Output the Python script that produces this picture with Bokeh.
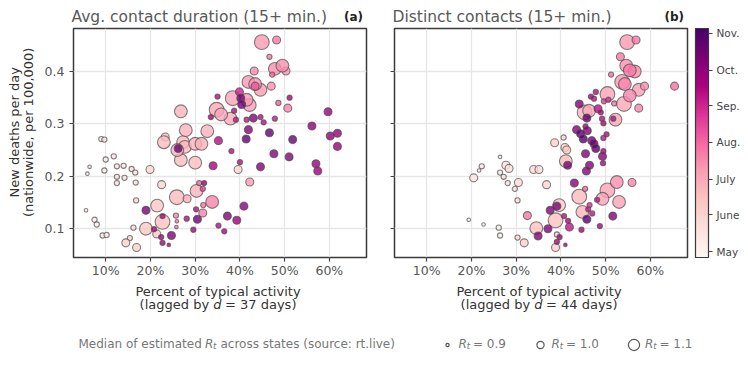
import numpy as np
from bokeh.plotting import figure
from bokeh.layouts import row, column
from bokeh.models import (ColumnDataSource, Range1d, FixedTicker, Label, ColorBar,
                          LinearColorMapper, PrintfTickFormatter, CustomJSTickFormatter)
from bokeh.embed import file_html
from bokeh.resources import INLINE

# ---------------- data: panel (a) avg. contact duration, lag 37 days ----------------
x_a = [44.9, 48.2, 46.6, 47.8, 49.5, 50.3, 43.2, 47.2, 41.9, 43.4,
       43.4, 44.6, 47.0, 51.1, 48.6, 50.7, 35.0, 38.4, 39.9, 40.2,
       41.5, 42.2, 40.4, 38.7, 34.8, 35.8, 33.5, 37.9, 39.1, 26.8,
       43.0, 41.5, 44.6, 45.3, 47.8, 59.7, 56.1, 41.9, 46.6, 41.4,
       27.9, 32.7, 23.3, 23.0, 27.3, 30.0, 31.4, 35.2, 51.8, 60.2,
       61.8, 61.8, 9.0, 9.7, 26.2, 26.0, 27.7, 38.1, 26.8, 30.0,
       34.0, 40.0, 39.6, 44.6, 47.6, 51.0, 57.0, 57.4, 11.8, 10.0,
       6.4, 5.9, 9.7, 12.5, 14.0, 15.8, 16.6, 12.5, 14.2, 12.5,
       16.7, 19.9, 22.5, 16.8, 5.6, 7.5, 8.0, 9.3, 10.2, 16.2,
       15.4, 14.5, 16.9, 19.0, 21.4, 21.5, 22.7, 19.0, 20.8, 22.7,
       22.4, 22.7, 24.1, 24.7, 25.7, 25.9, 25.8, 25.9, 28.2, 28.1,
       29.6, 30.5, 30.2, 30.3, 31.7, 31.8, 33.8, 30.9, 32.0, 31.7,
       35.2, 36.5, 37.2, 39.3, 40.9, 42.2]
y_a = [0.456, 0.460, 0.428, 0.405, 0.411, 0.401, 0.401, 0.394, 0.380, 0.376,
       0.372, 0.365, 0.372, 0.350, 0.340, 0.330, 0.352, 0.349, 0.361, 0.349,
       0.346, 0.336, 0.337, 0.325, 0.327, 0.318, 0.313, 0.310, 0.308, 0.324,
       0.311, 0.308, 0.313, 0.303, 0.310, 0.323, 0.296, 0.289, 0.283, 0.271,
       0.288, 0.286, 0.275, 0.265, 0.265, 0.262, 0.262, 0.268, 0.270, 0.277,
       0.282, 0.257, 0.271, 0.270, 0.253, 0.250, 0.256, 0.248, 0.231, 0.226,
       0.220, 0.227, 0.213, 0.218, 0.243, 0.237, 0.224, 0.210, 0.238, 0.232,
       0.218, 0.205, 0.211, 0.219, 0.220, 0.214, 0.207, 0.199, 0.197, 0.187,
       0.188, 0.213, 0.184, 0.154, 0.135, 0.117, 0.108, 0.087, 0.088, 0.102,
       0.082, 0.073, 0.064, 0.100, 0.090, 0.144, 0.113, 0.135, 0.099, 0.124,
       0.084, 0.073, 0.069, 0.087, 0.125, 0.114, 0.103, 0.160, 0.157, 0.119,
       0.098, 0.118, 0.137, 0.172, 0.130, 0.145, 0.151, 0.187, 0.187, 0.176,
       0.106, 0.095, 0.124, 0.116, 0.143, 0.189]
rt_a = [1.19, 1.02, 0.95, 1.14, 1.14, 1.02, 1.02, 0.95, 1.14, 1.14,
        1.02, 1.14, 1.02, 0.95, 0.95, 1.02, 0.95, 1.19, 1.02, 1.02,
        1.14, 1.14, 1.02, 0.95, 1.19, 1.14, 0.95, 1.14, 0.95, 1.14,
        1.02, 0.95, 0.95, 0.95, 0.95, 1.02, 1.02, 1.02, 1.02, 1.02,
        1.14, 1.14, 1.02, 1.14, 1.14, 1.14, 1.14, 1.02, 1.02, 1.02,
        1.02, 1.02, 0.95, 0.95, 1.02, 1.14, 1.14, 0.95, 1.14, 1.14,
        1.02, 0.95, 1.02, 1.02, 1.02, 1.02, 1.02, 1.02, 0.95, 0.95,
        0.91, 0.91, 0.95, 0.95, 0.95, 0.95, 0.95, 0.95, 0.95, 0.95,
        0.95, 1.02, 1.02, 0.95, 0.91, 0.95, 0.95, 0.95, 0.95, 0.95,
        0.95, 1.02, 1.02, 1.14, 1.02, 1.14, 1.19, 1.02, 0.95, 0.95,
        0.95, 0.95, 0.91, 1.02, 0.95, 0.91, 0.91, 1.19, 1.02, 0.95,
        0.95, 1.02, 0.95, 1.14, 1.02, 0.95, 1.14, 0.95, 0.95, 0.95,
        0.95, 0.95, 1.02, 1.02, 1.02, 1.02]
day_a = [70, 85, 85, 75, 75, 72, 78, 90, 70, 72,
         100, 70, 75, 140, 95, 80, 135, 65, 125, 165,
         70, 68, 170, 135, 62, 62, 140, 60, 130, 55,
         160, 130, 135, 135, 130, 150, 155, 160, 175, 175,
         55, 55, 50, 50, 52, 55, 58, 135, 170, 155,
         152, 150, 8, 8, 170, 55, 52, 135, 50, 48,
         140, 135, 30, 160, 160, 160, 150, 150, 15, 12,
         10, 10, 12, 15, 15, 18, 18, 20, 20, 20,
         22, 28, 30, 25, 5, 5, 5, 5, 5, 28,
         30, 35, 35, 40, 40, 42, 45, 165, 140, 140,
         145, 145, 140, 160, 80, 85, 85, 50, 60, 135,
         140, 168, 135, 55, 80, 85, 80, 95, 150, 110,
         135, 140, 160, 150, 155, 70]

# ---------------- data: panel (b) distinct contacts, lag 44 days ----------------
x_b = [54.8, 56.8, 53.3, 54.6, 55.4, 56.5, 51.2, 53.7, 54.3, 58.7,
       57.4, 65.4, 50.4, 55.4, 54.1, 57.4, 47.8, 46.7, 47.4, 49.6,
       50.6, 51.9, 44.1, 45.3, 46.3, 48.3, 48.9, 45.8, 49.2, 49.5,
       52.2, 51.7, 45.5, 43.5, 44.4, 45.9, 45.0, 46.9, 47.4, 49.5,
       50.2, 40.6, 38.6, 40.9, 41.3, 45.5, 47.8, 49.3, 49.5, 41.1,
       41.5, 46.4, 45.7, 49.4, 26.4, 22.3, 21.7, 20.5, 27.7, 28.4,
       26.4, 27.2, 28.1, 30.5, 29.7, 30.3, 33.9, 35.1, 36.8, 43.0,
       45.4, 44.1, 48.1, 50.4, 52.5, 55.9, 49.3, 53.0, 46.4, 46.1,
       44.8, 47.0, 45.8, 51.6, 48.7, 44.6, 39.6, 39.1, 37.6, 40.7,
       41.6, 41.9, 38.8, 32.5, 34.5, 37.1, 34.9, 39.1, 39.7, 39.1,
       38.8, 41.0, 19.4, 22.7, 26.1, 26.4, 30.3, 31.8]
y_b = [0.456, 0.460, 0.428, 0.411, 0.402, 0.400, 0.394, 0.380, 0.376, 0.372,
       0.365, 0.372, 0.357, 0.354, 0.338, 0.330, 0.361, 0.352, 0.348, 0.343,
       0.346, 0.339, 0.338, 0.322, 0.325, 0.329, 0.322, 0.311, 0.310, 0.301,
       0.308, 0.310, 0.295, 0.289, 0.281, 0.287, 0.271, 0.268, 0.262, 0.273,
       0.280, 0.274, 0.264, 0.255, 0.250, 0.243, 0.253, 0.238, 0.248, 0.229,
       0.221, 0.221, 0.210, 0.225, 0.237, 0.219, 0.211, 0.197, 0.221, 0.215,
       0.207, 0.199, 0.187, 0.188, 0.176, 0.154, 0.213, 0.213, 0.184, 0.187,
       0.176, 0.161, 0.155, 0.173, 0.189, 0.188, 0.157, 0.151, 0.145, 0.137,
       0.132, 0.129, 0.118, 0.124, 0.105, 0.098, 0.145, 0.143, 0.135, 0.124,
       0.115, 0.103, 0.116, 0.125, 0.101, 0.100, 0.086, 0.089, 0.084, 0.075,
       0.064, 0.069, 0.117, 0.108, 0.102, 0.087, 0.083, 0.073]
rt_b = [1.19, 1.02, 1.02, 1.14, 1.14, 1.14, 0.95, 1.19, 1.14, 1.02,
        1.14, 1.02, 1.19, 1.14, 1.19, 1.02, 0.95, 0.95, 0.95, 0.95,
        0.95, 0.95, 1.02, 1.19, 1.14, 1.02, 0.95, 1.02, 0.95, 0.95,
        1.14, 0.95, 0.95, 1.02, 1.02, 1.02, 1.02, 1.02, 1.02, 0.95,
        0.95, 0.95, 1.02, 1.02, 1.02, 1.02, 1.02, 1.02, 0.95, 1.14,
        1.02, 1.02, 1.02, 0.95, 0.91, 0.95, 0.91, 1.02, 1.02, 1.02,
        0.95, 0.95, 0.95, 1.02, 0.95, 0.95, 1.02, 1.02, 1.02, 1.02,
        0.95, 1.19, 0.95, 1.19, 1.14, 1.02, 1.14, 1.14, 0.95, 0.95,
        1.14, 0.95, 1.02, 1.02, 0.95, 0.95, 1.14, 1.02, 1.02, 0.95,
        0.95, 1.02, 1.19, 1.02, 1.14, 1.02, 1.02, 0.95, 0.95, 0.95,
        1.02, 0.91, 0.91, 0.91, 0.95, 0.95, 0.95, 1.02]
day_b = [70, 85, 85, 75, 85, 75, 90, 70, 78, 75,
         68, 90, 65, 80, 62, 80, 135, 140, 130, 110,
         120, 90, 160, 55, 60, 135, 140, 175, 135, 140,
         62, 135, 145, 160, 178, 160, 180, 165, 170, 130,
         135, 30, 35, 35, 40, 160, 178, 155, 140, 50,
         165, 160, 160, 140, 10, 12, 12, 15, 18, 18,
         15, 18, 18, 22, 22, 25, 25, 25, 30, 155,
         95, 50, 130, 65, 75, 80, 65, 65, 120, 130,
         55, 130, 180, 160, 140, 140, 40, 165, 160, 135,
         140, 130, 45, 85, 45, 160, 160, 40, 140, 140,
         35, 140, 5, 5, 5, 5, 28, 35]

# ---------------- labels / ticks ----------------
month_days = [0, 31, 61, 92, 123, 153, 184]       # days since May 1
month_labels = ["May", "June", "July", "Aug.", "Sep.", "Oct.", "Nov."]
x_ticks = [10, 20, 30, 40, 50, 60]
y_ticks = [0.1, 0.2, 0.3, 0.4]
rt_legend = [0.9, 1.0, 1.1]
rt_legend_text = ["0.9", "1.0", "1.1"]
panel_titles = ["Avg. contact duration (15+ min.)", "Distinct contacts (15+ min.)"]
panel_tags = ["(a)", "(b)"]
lags = [37, 44]
ylabel_lines = ["New deaths per day", "(nationwide, per 100,000)"]

FONT = "DejaVu Sans"
FW, FH = 293, 229
W, H = 748, 367
TOP_H = 26          # title strip
LEFT_W = 41         # y-label strip
PA_L, PA_R = 30, 14
PB_L = 14
ROW_B = 26
ROW_H = 2 + FH + ROW_B
BOT_H = H - TOP_H - ROW_H
FRAME_A_X = LEFT_W + PA_L
FRAME_B_X = FRAME_A_X + FW + PA_R + PB_L
DY = 4.5            # baseline correction for labels

RDPU9 = ["#fff7f3", "#fde0dd", "#fcc5c0", "#fa9fb5", "#f768a1",
         "#dd3497", "#ae017e", "#7a0177", "#49006a"]


def interp_palette(cols, n=256):
    rgb = np.array([[int(c[i:i + 2], 16) for i in (1, 3, 5)] for c in cols], float)
    pos = np.linspace(0, 1, len(cols))
    out = []
    for t in np.linspace(0, 1, n):
        r, g, b = (np.interp(t, pos, rgb[:, k]) for k in range(3))
        out.append("#%02x%02x%02x" % (int(round(r)), int(round(g)), int(round(b))))
    return out


mapper = LinearColorMapper(palette=interp_palette(RDPU9), low=-5, high=188)


def rt_size(rt):
    return np.clip(7.2 + (np.asarray(rt, float) - 1.0) * 40.0, 3.0, None)


def add_label(p, x, y, text, size, color, align="left", baseline="alphabetic",
              style="normal", angle=0.0):
    p.add_layout(Label(x=x, y=y, text=text,
                       text_font=FONT, text_font_size=size, text_color=color,
                       text_align=align, text_baseline=baseline,
                       text_font_style=style, angle=angle))


def strip(w, h):
    s = figure(width=w, height=h, x_range=Range1d(0, w), y_range=Range1d(0, h),
               output_backend="svg", toolbar_location=None, min_border=0, title=None,
               x_axis_location=None, y_axis_location=None)
    s.outline_line_color = None
    s.grid.visible = False
    s.border_fill_color = "white"
    s.background_fill_color = "white"
    return s


def make_panel(xs, ys, rts, days, left, right, show_ylab):
    p = figure(frame_width=FW, frame_height=FH, title=None,
               x_range=Range1d(2.8, 68.3), y_range=Range1d(0.045, 0.482),
               output_backend="svg", toolbar_location=None,
               min_border_left=left, min_border_right=right,
               min_border_top=2, min_border_bottom=ROW_B)
    p.background_fill_color = "white"
    p.border_fill_color = "white"
    p.outline_line_color = "#3a3a3a"
    p.outline_line_width = 1.5
    p.grid.grid_line_color = "#e6e6e6"
    p.grid.grid_line_width = 1.3
    p.xaxis.ticker = FixedTicker(ticks=x_ticks)
    p.yaxis.ticker = FixedTicker(ticks=y_ticks)
    p.xaxis.formatter = PrintfTickFormatter(format="%d%%")
    for ax in (p.xaxis, p.yaxis):
        ax.axis_line_color = None
        ax.major_tick_line_color = "#444444"
        ax.major_tick_line_width = 1.2
        ax.major_tick_out = 4
        ax.major_tick_in = 0
        ax.minor_tick_line_color = None
        ax.major_label_text_font = FONT
        ax.major_label_text_font_size = "12.5px"
        ax.major_label_text_color = "#555555"
        ax.major_label_standoff = 5
        ax.axis_label_standoff = 0
    p.xaxis.major_label_standoff = 1
    if not show_ylab:
        p.yaxis.formatter = CustomJSTickFormatter(code="return ''")
        p.yaxis.major_label_standoff = 0

    order = np.argsort(np.asarray(days), kind="stable")
    src = ColumnDataSource(dict(
        x=np.asarray(xs, float)[order], y=np.asarray(ys, float)[order],
        day=np.asarray(days, float)[order], size=rt_size(rts)[order]))
    p.scatter("x", "y", size="size", source=src,
              fill_color={"field": "day", "transform": mapper}, fill_alpha=0.8,
              line_color="#4d4d4d", line_alpha=0.7, line_width=1.1)
    return p


pa = make_panel(x_a, y_a, rt_a, day_a, PA_L, PA_R, True)
pb_right = W - LEFT_W - (PA_L + FW + PA_R) - (PB_L + FW)
pb = make_panel(x_b, y_b, rt_b, day_b, PB_L, pb_right, False)

cb = ColorBar(color_mapper=mapper, ticker=FixedTicker(ticks=month_days),
              major_label_overrides={d: l for d, l in zip(month_days, month_labels)},
              width=13, height=FH, padding=0, margin=0, location=(8, 0),
              major_tick_out=4, major_tick_in=0, major_tick_line_color="#444444",
              minor_tick_line_color=None, bar_line_color="#3a3a3a", bar_line_width=1.2,
              border_line_color=None, background_fill_color=None, label_standoff=4,
              major_label_text_font=FONT, major_label_text_font_size="10.5px",
              major_label_text_color="#444444")
pb.add_layout(cb, "right")

# ---------------- title strip ----------------
top = strip(W, TOP_H)
for fx, ttl, tag in zip([FRAME_A_X, FRAME_B_X], panel_titles, panel_tags):
    add_label(top, fx, TOP_H - 20.5 + DY, ttl, "15.5px", "#595959")
    add_label(top, fx + FW - 1.5, TOP_H - 20.5 + DY, tag, "12px", "#222222",
              align="right", style="bold")

# ---------------- y-label strip ----------------
left = strip(LEFT_W, ROW_H)
ymid = ROW_H - 2 - FH / 2.0
add_label(left, 18.7 - DY, ymid, ylabel_lines[0], "13px", "#333333", align="center", angle=np.pi / 2)
add_label(left, 32.0 - DY, ymid, ylabel_lines[1], "13px", "#333333", align="center", angle=np.pi / 2)

# ---------------- bottom strip: x labels and size legend ----------------
bot = strip(W, BOT_H)
for fx, lag in zip([FRAME_A_X, FRAME_B_X], lags):
    cx = fx + FW / 2.0
    add_label(bot, cx, H - 295.3 + DY, "Percent of typical activity", "13px", "#333333", align="center")
    start = cx - 78.4
    yl = H - 308.8 + DY
    add_label(bot, start, yl, "(lagged by", "13px", "#333333")
    add_label(bot, start + 73.6, yl, "d", "13px", "#333333", style="italic")
    add_label(bot, start + 85.4, yl, "= %d days)" % lag, "13px", "#333333")

GRAY = "#777777"
base = H - 347.8 + DY
add_label(bot, 78, base, "Median of estimated", "12px", GRAY)
add_label(bot, 204.5, base, "R", "12px", GRAY, style="italic")
add_label(bot, 212.5, base - 2.5, "t", "8.5px", GRAY, style="italic")
add_label(bot, 220, base, "across states (source: rt.live)", "12px", GRAY)

leg_x = [447, 540, 633.5]
bot.scatter(x=leg_x, y=[H - 344.5] * 3, size=rt_size(rt_legend), fill_color=None,
            line_color="#555555", line_width=1.2)
for lx, txt in zip(leg_x, rt_legend_text):
    tx = lx + 11
    add_label(bot, tx, base, "R", "12px", GRAY, style="italic")
    add_label(bot, tx + 8.3, base - 2.5, "t", "8.5px", GRAY, style="italic")
    add_label(bot, tx + 14.5, base, "= " + txt, "12px", GRAY)

layout = column(top, row(left, pa, pb), bot)
open("out.html", "w").write(file_html(layout, INLINE))
